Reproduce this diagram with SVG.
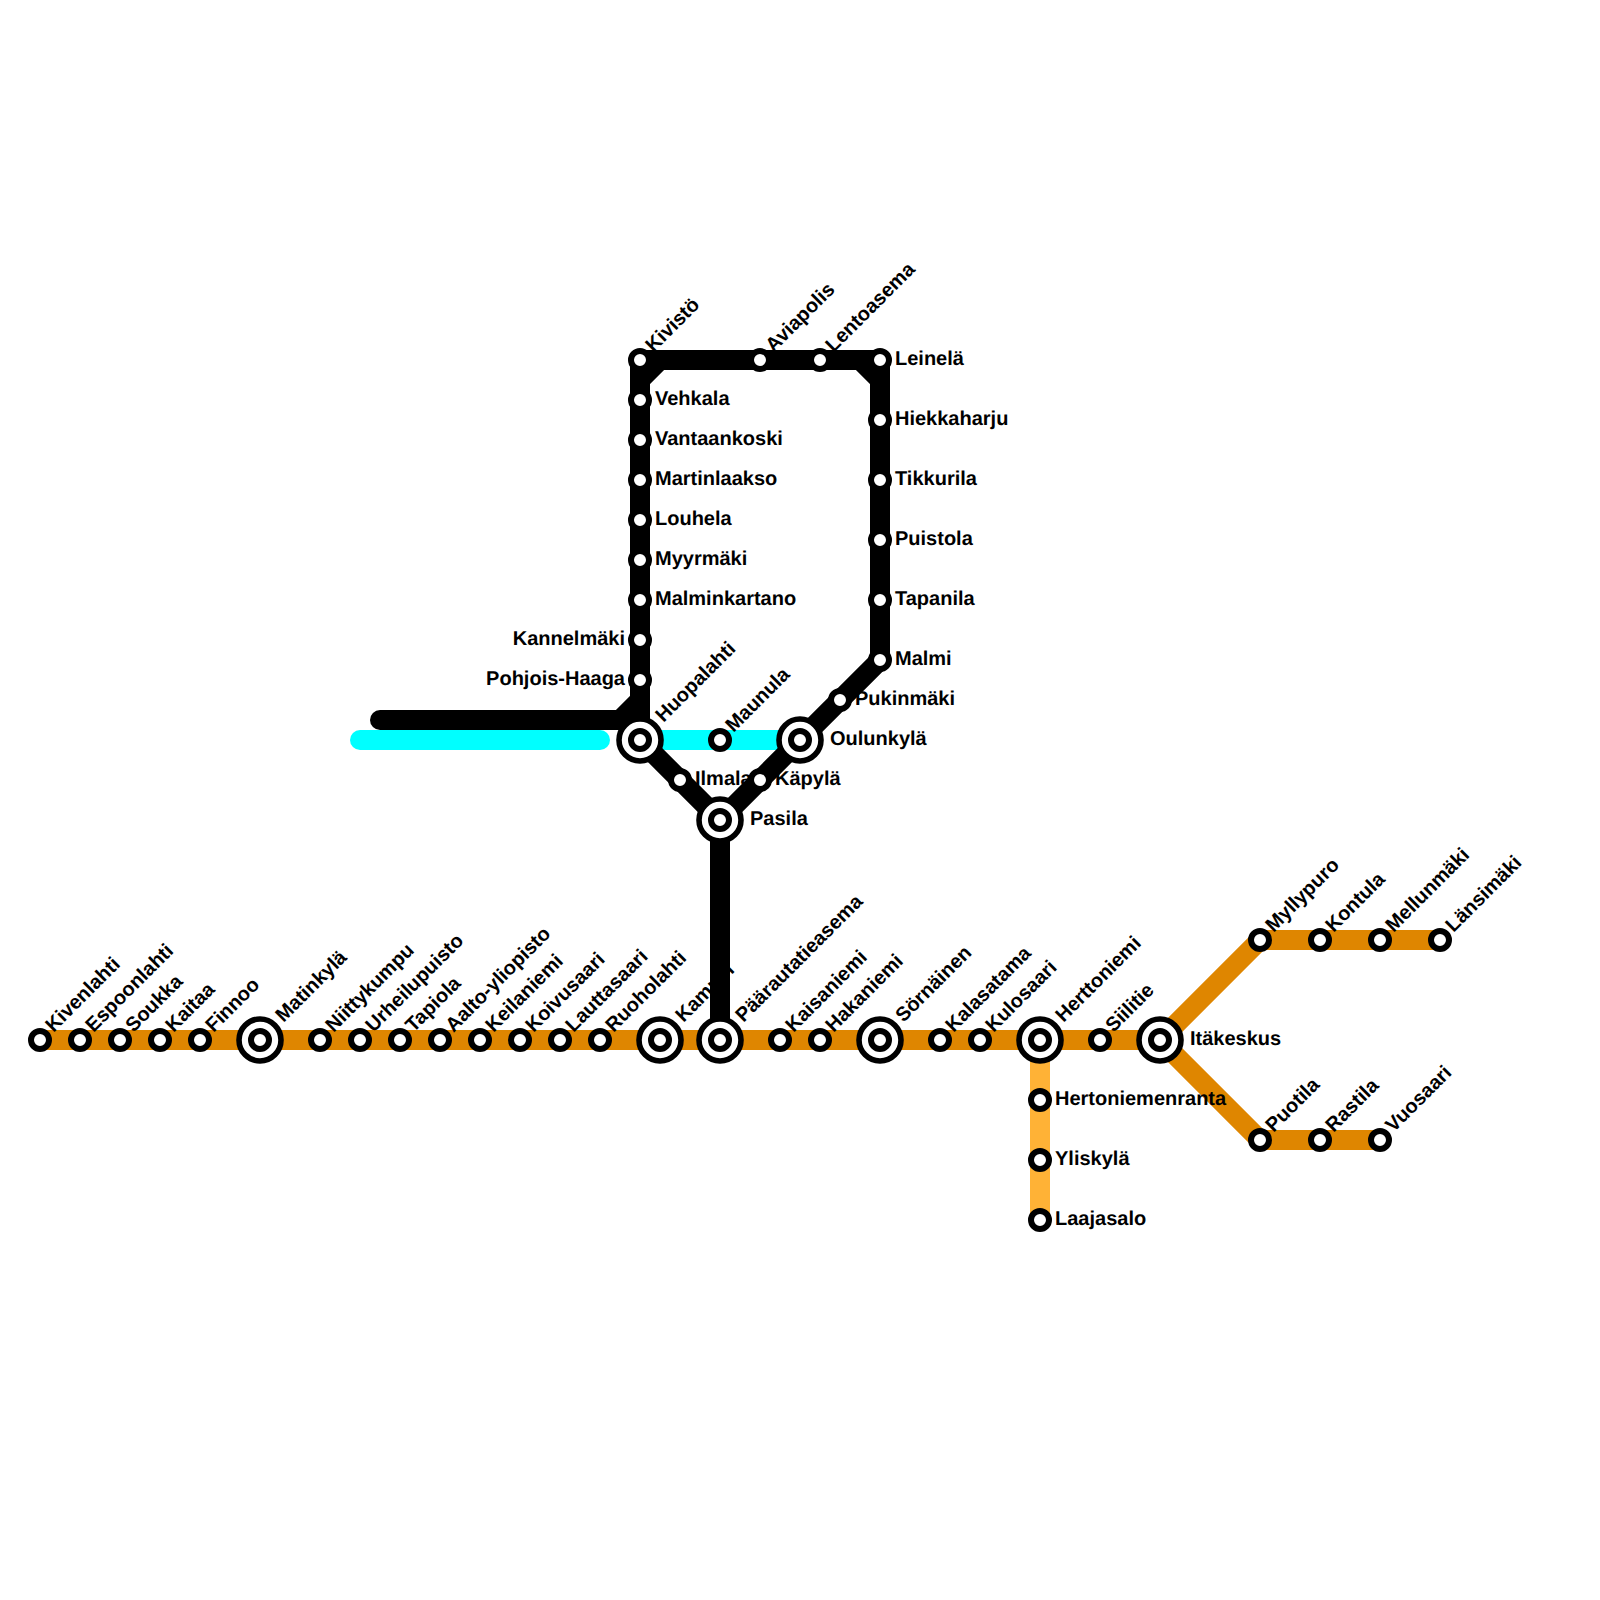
<svg xmlns="http://www.w3.org/2000/svg" width="1600" height="1600" viewBox="0 0 1600 1600">
<defs>
<style>
text{font-family:"Liberation Sans",Arial,sans-serif;font-weight:bold;font-size:20px;fill:#000;text-rendering:geometricPrecision}
.l{fill:none;stroke-width:20;stroke-linejoin:miter}
.k{stroke:#000}
.o{stroke:#df8600}
.y{stroke:#ffb236}
.c{stroke:#00ffff}
.r{stroke-linecap:round}
.s{fill:#fff;stroke:#000;stroke-width:6}
.b{fill:#fff;stroke:#000;stroke-width:5.6}
.e{text-anchor:end}
</style>
<circle id="st" class="s" r="9"/>
<g id="bg"><circle class="b" r="21"/><circle class="s" r="9"/></g>
</defs>
<g id="under-labels">
<text transform="translate(683.5 1023) rotate(-45)">Kamppi</text>
<text x="695" y="785">Ilmala</text>
</g>
<g id="connectors">
<path class="l c r" d="M360 740H600"/>
<path class="l c" d="M640 740H800"/>
<path class="l y" d="M1040 1040V1220"/>
<path class="l o" d="M40 1040H1160L1260 940H1440M1160 1040L1260 1140H1380"/>
<path class="l k r" d="M380 720H620"/>
<path class="l k" d="M620 720L640 700M640 360V740L720 820L880 660V360M640 360H880M640 380L660 360M860 360L880 380M720 820V1040"/>
</g>
<g id="Kivenlahti"><use href="#st" x="40" y="1040"/><text transform="translate(53.5 1033) rotate(-45)">Kivenlahti</text></g>
<g id="Espoonlahti"><use href="#st" x="80" y="1040"/><text transform="translate(93.5 1033) rotate(-45)">Espoonlahti</text></g>
<g id="Soukka"><use href="#st" x="120" y="1040"/><text transform="translate(133.5 1033) rotate(-45)">Soukka</text></g>
<g id="Kaitaa"><use href="#st" x="160" y="1040"/><text transform="translate(173.5 1033) rotate(-45)">Kaitaa</text></g>
<g id="Finnoo"><use href="#st" x="200" y="1040"/><text transform="translate(213.5 1033) rotate(-45)">Finnoo</text></g>
<g id="Matinkyla"><use href="#bg" x="260" y="1040"/><text transform="translate(283.5 1023) rotate(-45)">Matinkylä</text></g>
<g id="Niittykumpu"><use href="#st" x="320" y="1040"/><text transform="translate(333.5 1033) rotate(-45)">Niittykumpu</text></g>
<g id="Urheilupuisto"><use href="#st" x="360" y="1040"/><text transform="translate(373.5 1033) rotate(-45)">Urheilupuisto</text></g>
<g id="Tapiola"><use href="#st" x="400" y="1040"/><text transform="translate(413.5 1033) rotate(-45)">Tapiola</text></g>
<g id="Aalto-yliopisto"><use href="#st" x="440" y="1040"/><text transform="translate(453.5 1033) rotate(-45)">Aalto-yliopisto</text></g>
<g id="Keilaniemi"><use href="#st" x="480" y="1040"/><text transform="translate(493.5 1033) rotate(-45)">Keilaniemi</text></g>
<g id="Koivusaari"><use href="#st" x="520" y="1040"/><text transform="translate(533.5 1033) rotate(-45)">Koivusaari</text></g>
<g id="Lauttasaari"><use href="#st" x="560" y="1040"/><text transform="translate(573.5 1033) rotate(-45)">Lauttasaari</text></g>
<g id="Ruoholahti"><use href="#st" x="600" y="1040"/><text transform="translate(613.5 1033) rotate(-45)">Ruoholahti</text></g>
<g id="Kamppi"><use href="#bg" x="660" y="1040"/></g>
<g id="Paarautatieasema"><use href="#bg" x="720" y="1040"/><text transform="translate(743.5 1023) rotate(-45)">Päärautatieasema</text></g>
<g id="Kaisaniemi"><use href="#st" x="780" y="1040"/><text transform="translate(793.5 1033) rotate(-45)">Kaisaniemi</text></g>
<g id="Hakaniemi"><use href="#st" x="820" y="1040"/><text transform="translate(833.5 1033) rotate(-45)">Hakaniemi</text></g>
<g id="Sornainen"><use href="#bg" x="880" y="1040"/><text transform="translate(903.5 1023) rotate(-45)">Sörnäinen</text></g>
<g id="Kalasatama"><use href="#st" x="940" y="1040"/><text transform="translate(953.5 1033) rotate(-45)">Kalasatama</text></g>
<g id="Kulosaari"><use href="#st" x="980" y="1040"/><text transform="translate(993.5 1033) rotate(-45)">Kulosaari</text></g>
<g id="Herttoniemi"><use href="#bg" x="1040" y="1040"/><text transform="translate(1063.5 1023) rotate(-45)">Herttoniemi</text></g>
<g id="Siilitie"><use href="#st" x="1100" y="1040"/><text transform="translate(1113.5 1033) rotate(-45)">Siilitie</text></g>
<g id="Itakeskus"><use href="#bg" x="1160" y="1040"/><text x="1190" y="1045">Itäkeskus</text></g>
<g id="Myllypuro"><use href="#st" x="1260" y="940"/><text transform="translate(1273.5 933) rotate(-45)">Myllypuro</text></g>
<g id="Kontula"><use href="#st" x="1320" y="940"/><text transform="translate(1333.5 933) rotate(-45)">Kontula</text></g>
<g id="Mellunmaki"><use href="#st" x="1380" y="940"/><text transform="translate(1393.5 933) rotate(-45)">Mellunmäki</text></g>
<g id="Lansimaki"><use href="#st" x="1440" y="940"/><text transform="translate(1453.5 933) rotate(-45)">Länsimäki</text></g>
<g id="Puotila"><use href="#st" x="1260" y="1140"/><text transform="translate(1273.5 1133) rotate(-45)">Puotila</text></g>
<g id="Rastila"><use href="#st" x="1320" y="1140"/><text transform="translate(1333.5 1133) rotate(-45)">Rastila</text></g>
<g id="Vuosaari"><use href="#st" x="1380" y="1140"/><text transform="translate(1393.5 1133) rotate(-45)">Vuosaari</text></g>
<g id="Hertoniemenranta"><use href="#st" x="1040" y="1100"/><text x="1055" y="1105">Hertoniemenranta</text></g>
<g id="Yliskyla"><use href="#st" x="1040" y="1160"/><text x="1055" y="1165">Yliskylä</text></g>
<g id="Laajasalo"><use href="#st" x="1040" y="1220"/><text x="1055" y="1225">Laajasalo</text></g>
<g id="Kivisto"><use href="#st" x="640" y="360"/><text transform="translate(653.5 353) rotate(-45)">Kivistö</text></g>
<g id="Vehkala"><use href="#st" x="640" y="400"/><text x="655" y="405">Vehkala</text></g>
<g id="Vantaankoski"><use href="#st" x="640" y="440"/><text x="655" y="445">Vantaankoski</text></g>
<g id="Martinlaakso"><use href="#st" x="640" y="480"/><text x="655" y="485">Martinlaakso</text></g>
<g id="Louhela"><use href="#st" x="640" y="520"/><text x="655" y="525">Louhela</text></g>
<g id="Myyrmaki"><use href="#st" x="640" y="560"/><text x="655" y="565">Myyrmäki</text></g>
<g id="Malminkartano"><use href="#st" x="640" y="600"/><text x="655" y="605">Malminkartano</text></g>
<g id="Kannelmaki"><use href="#st" x="640" y="640"/><text class="e" x="625" y="645">Kannelmäki</text></g>
<g id="Pohjois-Haaga"><use href="#st" x="640" y="680"/><text class="e" x="625" y="685">Pohjois-Haaga</text></g>
<g id="Huopalahti"><use href="#bg" x="640" y="740"/><text transform="translate(663.5 723) rotate(-45)">Huopalahti</text></g>
<g id="Maunula"><use href="#st" x="720" y="740"/><text transform="translate(733.5 733) rotate(-45)">Maunula</text></g>
<g id="Oulunkyla"><use href="#bg" x="800" y="740"/><text x="830" y="745">Oulunkylä</text></g>
<g id="Ilmala"><use href="#st" x="680" y="780"/></g>
<g id="Pasila"><use href="#bg" x="720" y="820"/><text x="750" y="825">Pasila</text></g>
<g id="Kapyla"><use href="#st" x="760" y="780"/><text x="775" y="785">Käpylä</text></g>
<g id="Pukinmaki"><use href="#st" x="840" y="700"/><text x="855" y="705">Pukinmäki</text></g>
<g id="Malmi"><use href="#st" x="880" y="660"/><text x="895" y="665">Malmi</text></g>
<g id="Tapanila"><use href="#st" x="880" y="600"/><text x="895" y="605">Tapanila</text></g>
<g id="Puistola"><use href="#st" x="880" y="540"/><text x="895" y="545">Puistola</text></g>
<g id="Tikkurila"><use href="#st" x="880" y="480"/><text x="895" y="485">Tikkurila</text></g>
<g id="Hiekkaharju"><use href="#st" x="880" y="420"/><text x="895" y="425">Hiekkaharju</text></g>
<g id="Leinela"><use href="#st" x="880" y="360"/><text x="895" y="365">Leinelä</text></g>
<g id="Lentoasema"><use href="#st" x="820" y="360"/><text transform="translate(833.5 353) rotate(-45)">Lentoasema</text></g>
<g id="Aviapolis"><use href="#st" x="760" y="360"/><text transform="translate(773.5 353) rotate(-45)">Aviapolis</text></g>
</svg>
